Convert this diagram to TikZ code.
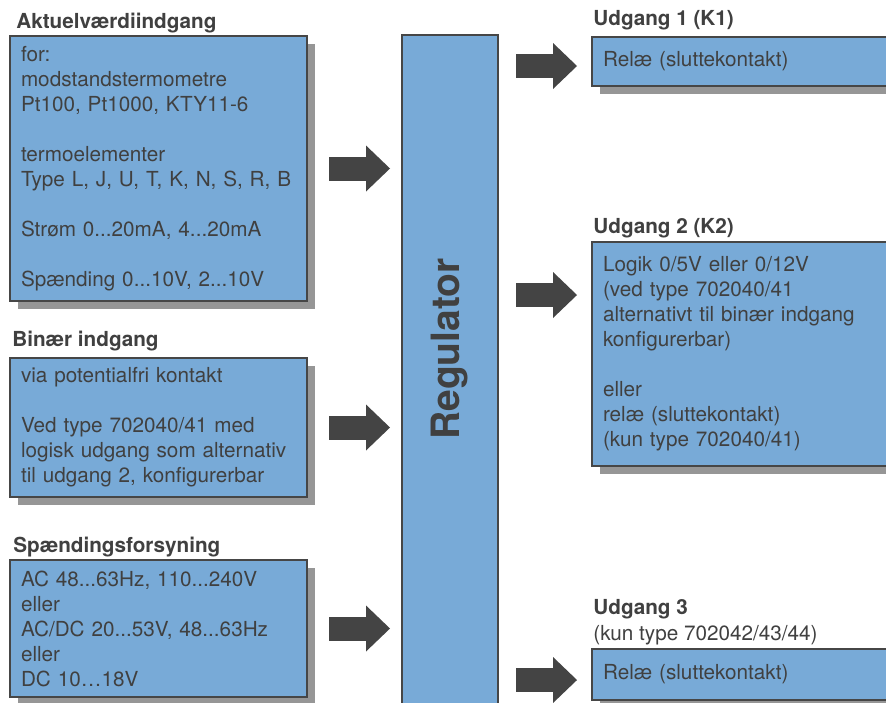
\documentclass[tikz,border=0pt]{standalone}
\usepackage{fontspec}
\setmainfont{TeX Gyre Heros}
\usetikzlibrary{shadows, positioning, arrows.meta, calc}
\definecolor{boxBlue}{RGB}{120,170,215}
\definecolor{drawColor}{RGB}{70,70,70}
\definecolor{textColor}{RGB}{64,64,64}
\definecolor{shadowColor}{RGB}{150,150,150}
\definecolor{arrowColor}{RGB}{68,68,68}
\newcommand{\bodyfont}{\fontsize{10.35pt}{12.5pt}\selectfont}
\tikzstyle{plainbox}=[rectangle, draw=drawColor, line width=0.75pt, fill=boxBlue, anchor=north west,
  outer sep=0pt, inner xsep=5.5pt, inner ysep=0pt, align=left, text=textColor, font=\bodyfont]
\tikzstyle{box}=[plainbox, drop shadow={shadow xshift=4pt, shadow yshift=-4pt, fill=shadowColor, opacity=1}]
\tikzstyle{title}=[anchor=base west, inner sep=0pt, text=textColor, font=\bodyfont\bfseries]
\tikzstyle{note}=[anchor=base west, inner sep=0pt, text=textColor, font=\bodyfont]
\tikzstyle{regtext}=[inner sep=0pt, text=textColor, font=\fontsize{19.5pt}{23pt}\selectfont\bfseries]
\tikzstyle{bigarrow}=[draw=arrowColor, line width=12pt, -{Triangle[length=12pt, width=23pt, line width=0pt]}]

\begin{document}
\begin{tikzpicture}[x=0.5pt, y=-0.5pt]
      \fill[white] (0,0) rectangle (886,702);
      \useasboundingbox (0,0) rectangle (886,702);
      \node (aktuel) [box, text width=137.5pt, minimum height=132.5pt] at (10,36)
        {for:\\modstandstermometre\\Pt100, Pt1000, KTY11-6\\[12.5pt]termoelementer\\Type L, J, U, T, K, N, S, R, B\\[12.5pt]Strøm 0...20mA, 4...20mA\\[12.5pt]Spænding 0...10V, 2...10V};
      \node (binaer) [box, text width=137.5pt, minimum height=69.5pt] at (10,358)
        {via potentialfri kontakt\\[12.5pt]Ved type 702040/41 med\\logisk udgang som alternativ\\til udgang 2, konfigurerbar};
      \node (forsyning) [box, text width=137.5pt, minimum height=68.5pt] at (10,560)
        {AC 48...63Hz, 110...240V\\eller\\AC/DC 20...53V, 48...63Hz\\eller\\DC 10…18V};
      \node (regulator) [plainbox, minimum width=48pt, minimum height=362.5pt] at (402,35) {};
      \node (regulatortext) [regtext, rotate=90] at (450,349) {Regulator};
      \node (udgang1) [box, text width=144pt, minimum height=24.5pt] at (592,37) {Relæ (sluttekontakt)};
      \node (udgang2) [box, text width=144pt, minimum height=112pt] at (592,242)
        {Logik 0/5V eller 0/12V\\(ved type 702040/41\\alternativt til binær indgang\\konfigurerbar)\\[12.5pt]eller\\relæ (sluttekontakt)\\(kun type 702040/41)};
      \node (udgang3) [box, text width=144pt, minimum height=25.5pt] at (592,649) {Relæ (sluttekontakt)};
      \node (aktueltitle) [title] at (16,28) {Aktuelværdiindgang};
      \node (binaertitle) [title] at (12,346) {Binær indgang};
      \node (forsyningtitle) [title] at (13,552) {Spændingsforsyning};
      \node (udgang1title) [title] at (593,25) {Udgang 1 (K1)};
      \node (udgang2title) [title] at (593,233) {Udgang 2 (K2)};
      \node (udgang3title) [title] at (593,614) {Udgang 3};
      \node (udgang3note) [note] at (593,640) {(kun type 702042/43/44)};
      \coordinate (k1in) at (592,66);
      \coordinate (k2in) at (592,295);
      \coordinate (k3in) at (592,680);
      \draw [bigarrow, shorten <=11pt, shorten >=6pt] (aktuel.east) -- (aktuel.east -| regulator.west);
      \draw [bigarrow, shorten <=11pt, shorten >=6pt] (binaer.east) -- (binaer.east -| regulator.west);
      \draw [bigarrow, shorten <=11pt, shorten >=6pt] (forsyning.east) -- (forsyning.east -| regulator.west);
      \draw [bigarrow, shorten <=9pt, shorten >=7.5pt] (regulator.east |- k1in) -- (k1in);
      \draw [bigarrow, shorten <=9pt, shorten >=7.5pt] (regulator.east |- k2in) -- (k2in);
      \draw [bigarrow, shorten <=9pt, shorten >=7.5pt] (regulator.east |- k3in) -- (k3in);
    \end{tikzpicture}
\end{document}
